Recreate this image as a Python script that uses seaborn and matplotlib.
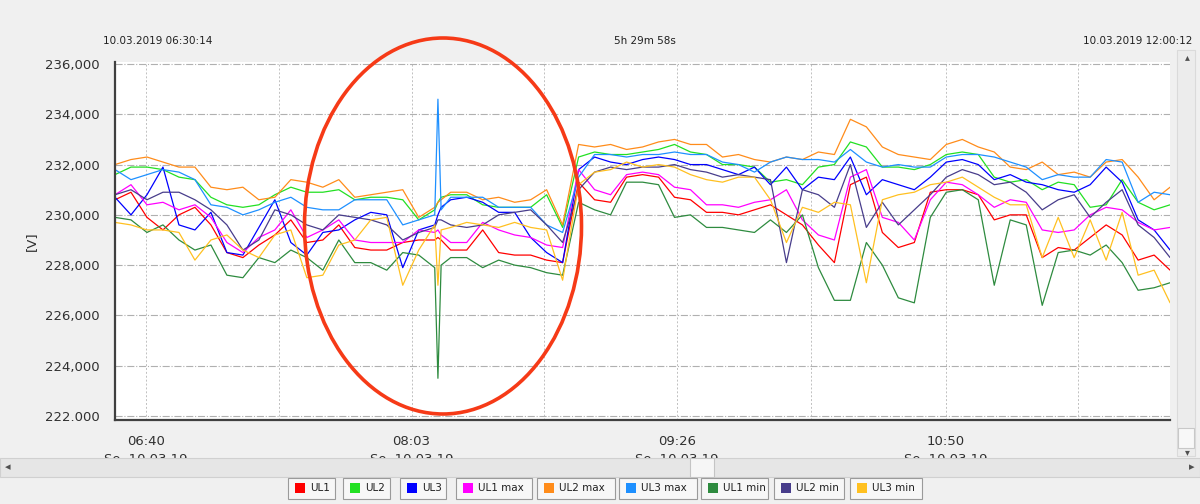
import numpy as np
import pandas as pd
import matplotlib
matplotlib.use('Agg')
import matplotlib.pyplot as plt
from matplotlib.patches import Ellipse, Rectangle
import seaborn as sns

# minutes after the start of the recording (10.03.2019 06:30:14)
minutes = [0, 5, 10, 15, 20, 25, 30, 35, 40, 45,
           50, 55, 60, 65, 70, 75, 80, 85, 90, 95,
           100, 101, 102, 105, 110, 115, 120, 125, 130, 135,
           140, 145, 150, 155, 160, 165, 170, 175, 180, 185,
           190, 195, 200, 205, 210, 215, 220, 225, 230, 235,
           240, 245, 250, 255, 260, 265, 270, 275, 280, 285,
           290, 295, 300, 305, 310, 315, 320, 325, 330]

ul1 = [230.6, 230.9, 229.9, 229.4, 230.0, 230.3, 229.6, 228.5, 228.3, 228.8,
       229.2, 229.8, 228.9, 229.0, 229.6, 228.7, 228.6, 228.6, 228.9, 229.0,
       229.0, 229.1, 229.0, 228.6, 228.6, 229.4, 228.5, 228.4, 228.4, 228.2,
       228.1, 231.3, 230.6, 230.5, 231.5, 231.6, 231.5, 230.7, 230.6, 230.1,
       230.1, 230.0, 230.2, 230.4, 230.0, 229.6, 228.8, 228.1, 231.2, 231.5,
       229.3, 228.7, 228.9, 230.9, 231.0, 231.0, 230.8, 229.8, 230.0, 230.0,
       228.3, 228.7, 228.6, 229.1, 229.6, 229.2, 228.2, 228.4, 227.8]
ul2 = [231.6, 231.9, 231.9, 231.8, 231.5, 231.4, 230.7, 230.4, 230.3, 230.4,
       230.8, 231.1, 230.9, 230.9, 231.0, 230.6, 230.7, 230.7, 230.6, 229.8,
       230.2, 230.5, 230.7, 230.8, 230.8, 230.4, 230.3, 230.3, 230.3, 230.8,
       229.5, 232.3, 232.5, 232.4, 232.4, 232.5, 232.6, 232.8, 232.5, 232.4,
       232.0, 232.0, 231.9, 231.3, 231.4, 231.2, 231.9, 232.0, 232.9, 232.7,
       231.9, 231.9, 231.8, 232.0, 232.4, 232.5, 232.4, 231.5, 231.3, 231.4,
       231.0, 231.3, 231.2, 230.3, 230.4, 231.4, 230.5, 230.2, 230.4]
ul3 = [230.7, 230.0, 230.8, 231.9, 229.6, 229.4, 230.1, 228.5, 228.4, 229.5,
       230.6, 228.9, 228.4, 229.3, 229.4, 229.8, 230.1, 230.0, 227.9, 229.4,
       229.6, 230.0, 230.3, 230.6, 230.7, 230.5, 230.1, 230.1, 229.1, 228.5,
       228.1, 231.8, 232.3, 232.1, 232.0, 232.2, 232.3, 232.2, 232.0, 232.0,
       231.8, 231.6, 231.9, 231.2, 231.9, 231.0, 231.5, 231.4, 232.3, 230.8,
       231.4, 231.2, 231.0, 231.5, 232.1, 232.2, 232.0, 231.4, 231.6, 231.3,
       231.2, 231.0, 230.9, 231.2, 231.9, 231.3, 229.8, 229.4, 228.6]
ul1_max = [230.8, 231.2, 230.4, 230.5, 230.2, 230.4, 229.9, 228.9, 228.5, 229.1,
           229.4, 230.2, 229.1, 229.4, 229.8, 229.0, 228.9, 228.9, 228.9, 229.4,
           229.3, 229.4, 229.2, 228.9, 228.9, 229.7, 229.4, 229.2, 229.1, 228.8,
           228.7, 231.8, 231.0, 230.8, 231.6, 231.7, 231.6, 231.1, 231.0, 230.4,
           230.4, 230.3, 230.5, 230.6, 231.0, 229.8, 229.2, 229.0, 231.5, 231.8,
           229.9, 229.7, 229.0, 230.6, 231.3, 231.2, 230.8, 230.3, 230.6, 230.5,
           229.4, 229.3, 229.4, 230.0, 230.3, 230.2, 229.7, 229.4, 229.5]
ul2_max = [232.0, 232.2, 232.3, 232.1, 231.9, 231.9, 231.1, 231.0, 231.1, 230.6,
           230.7, 231.4, 231.3, 231.1, 231.4, 230.7, 230.8, 230.9, 231.0, 229.9,
           230.3, 230.5, 230.6, 230.9, 230.9, 230.6, 230.7, 230.5, 230.6, 231.0,
           229.6, 232.8, 232.7, 232.8, 232.6, 232.7, 232.9, 233.0, 232.8, 232.8,
           232.3, 232.4, 232.2, 232.1, 232.3, 232.2, 232.5, 232.4, 233.8, 233.5,
           232.7, 232.4, 232.3, 232.2, 232.8, 233.0, 232.7, 232.5, 231.9, 231.8,
           232.1, 231.6, 231.7, 231.5, 232.1, 232.2, 231.5, 230.6, 231.1]
ul3_max = [231.8, 231.4, 231.6, 231.8, 231.7, 231.4, 230.4, 230.3, 230.0, 230.2,
           230.5, 230.7, 230.3, 230.2, 230.2, 230.6, 230.6, 230.6, 229.6, 229.8,
           230.0, 234.6, 230.2, 230.7, 230.7, 230.7, 230.3, 230.3, 230.3, 229.6,
           229.3, 231.5, 232.4, 232.4, 232.3, 232.4, 232.4, 232.5, 232.4, 232.4,
           232.1, 232.0, 231.7, 232.1, 232.3, 232.2, 232.2, 232.1, 232.6, 232.1,
           231.9, 232.0, 231.9, 231.9, 232.3, 232.4, 232.4, 232.3, 232.1, 231.9,
           231.4, 231.6, 231.5, 231.5, 232.2, 232.1, 230.5, 230.9, 230.8]
ul1_min = [229.9, 229.8, 229.3, 229.6, 229.0, 228.6, 228.8, 227.6, 227.5, 228.3,
           228.1, 228.6, 228.3, 227.8, 229.0, 228.1, 228.1, 227.8, 228.5, 228.4,
           227.9, 223.5, 228.0, 228.3, 228.3, 227.9, 228.2, 228.0, 227.9, 227.7,
           227.6, 230.5, 230.2, 230.0, 231.3, 231.3, 231.2, 229.9, 230.0, 229.5,
           229.5, 229.4, 229.3, 229.8, 229.3, 230.0, 227.9, 226.6, 226.6, 228.9,
           228.0, 226.7, 226.5, 229.9, 230.9, 231.0, 230.6, 227.2, 229.8, 229.6,
           226.4, 228.5, 228.6, 228.4, 228.8, 228.1, 227.0, 227.1, 227.3]
ul2_min = [230.8, 231.0, 230.6, 230.9, 230.9, 230.6, 230.2, 229.6, 228.6, 229.0,
           230.2, 230.0, 229.6, 229.4, 230.0, 229.9, 229.8, 229.6, 229.0, 229.3,
           229.5, 229.8, 229.8, 229.6, 229.5, 229.6, 230.0, 230.1, 230.2, 229.6,
           228.9, 231.0, 231.7, 231.9, 231.8, 231.9, 231.9, 232.0, 231.8, 231.7,
           231.5, 231.6, 231.5, 231.4, 228.1, 231.0, 230.8, 230.3, 232.0, 229.5,
           230.5, 229.6, 230.2, 230.8, 231.5, 231.8, 231.6, 231.2, 231.3, 230.9,
           230.2, 230.6, 230.8, 229.9, 230.5, 231.0, 229.6, 229.1, 228.3]
ul3_min = [229.7, 229.6, 229.4, 229.4, 229.3, 228.2, 229.0, 229.2, 228.6, 228.3,
           229.2, 229.4, 227.5, 227.6, 228.8, 229.0, 229.8, 229.9, 227.2, 228.6,
           229.6, 227.2, 229.4, 229.5, 229.7, 229.6, 229.5, 229.7, 229.5, 229.4,
           227.4, 231.2, 231.7, 231.8, 232.1, 231.9, 232.0, 231.9, 231.6, 231.4,
           231.3, 231.5, 231.5, 230.6, 228.9, 230.3, 230.1, 230.5, 230.4, 227.3,
           230.6, 230.8, 230.9, 231.2, 231.3, 231.5, 231.1, 230.7, 230.4, 230.4,
           228.3, 229.9, 228.3, 229.8, 228.2, 230.1, 227.6, 227.8, 226.5]

names = ['UL1', 'UL2', 'UL3', 'UL1 max', 'UL2 max', 'UL3 max', 'UL1 min', 'UL2 min', 'UL3 min']
colors = ['#ff0000', '#22e022', '#0000ff', '#ff00ff', '#ff8c1a',
          '#1e90ff', '#2e8b3f', '#483d8b', '#ffc020']

tick_labels = ['06:40', '08:03', '09:26', '10:50']
minor_ticks = ['07:21:30', '08:44:30', '10:08:00', '11:31:30']
ytick_values = [222, 224, 226, 228, 230, 232, 234, 236]
ytick_labels = ['222.000', '224,000', '226,000', '228,000', '230,000', '232,000', '234,000', '236,000']

start = pd.Timestamp('2019-03-10 06:30:14')
end = pd.Timestamp('2019-03-10 12:00:12')
times = start + pd.to_timedelta(minutes, unit='m')

wide = pd.DataFrame(dict(zip(names, [ul1, ul2, ul3, ul1_max, ul2_max, ul3_max,
                                     ul1_min, ul2_min, ul3_min])))
wide['time'] = times
df = wide.melt(id_vars='time', var_name='series', value_name='value')

sns.set_theme(style='white')
plt.rcParams['font.family'] = ['DejaVu Sans']

W, H = 1200, 504
fig = plt.figure(figsize=(12, 5.04), dpi=100, facecolor='#f0f0f0')
ax = fig.add_axes([115 / W, 1 - 420 / H, 1055 / W, 358 / H])
ax.set_facecolor('white')

sns.lineplot(data=df, x='time', y='value', hue='series', hue_order=names,
             palette=dict(zip(names, colors)), estimator=None, sort=False,
             lw=0.9, legend=False, ax=ax)

ax.set_xlim(start, end)
ax.set_ylim(221.84, 236.08)
ax.set_yticks(ytick_values)
ax.set_yticklabels(ytick_labels, fontsize=9.5, color='#303030')
major = [pd.Timestamp('2019-03-10 ' + t) for t in tick_labels]
ax.set_xticks(major)
ax.set_xticklabels([t + '\nSo. 10.03.19' for t in tick_labels], fontsize=9.5,
                   color='#303030', linespacing=1.5)
ax.set_xticks([pd.Timestamp('2019-03-10 ' + t) for t in minor_ticks], minor=True)
ax.tick_params(axis='both', which='both', direction='out', length=7, width=1.4,
               color='#404040', pad=4)
ax.tick_params(axis='x', which='minor', labelbottom=False)

ax.grid(axis='y', ls='-.', color='#b0b0b0', lw=0.8)
ax.grid(axis='x', which='both', ls=(0, (2, 2)), color='#c0c0c0', lw=0.7)
for s in ['top', 'right']:
    ax.spines[s].set_visible(False)
for s in ['left', 'bottom']:
    ax.spines[s].set_color('#404040')
    ax.spines[s].set_linewidth(1.6)
ax.set_xlabel('')
ax.set_ylabel('[V]', fontsize=9.5, color='#303030', labelpad=5)

# header texts
fig.text(103 / W, 1 - 41 / H, '10.03.2019 06:30:14', fontsize=7.5, va='center', color='#202020')
fig.text(645 / W, 1 - 41 / H, '5h 29m 58s', fontsize=7.5, va='center', ha='center', color='#202020')
fig.text(1192 / W, 1 - 41 / H, '10.03.2019 12:00:12', fontsize=7.5, va='center', ha='right', color='#202020')

# scrollbars
fig.add_artist(Rectangle((0, 1 - 477 / H), 1, 19 / H, transform=fig.transFigure,
                         fc='#e6e6e6', ec='#d0d0d0', lw=0.8, zorder=5))
fig.add_artist(Rectangle((690 / W, 1 - 477 / H), 24 / W, 19 / H, transform=fig.transFigure,
                         fc='#f6f6f6', ec='#c4c4c4', lw=0.8, zorder=6))
fig.text(8 / W, 1 - 467 / H, '\u25c2', fontsize=8, ha='center', va='center', color='#505050', zorder=7)
fig.text(1192 / W, 1 - 467 / H, '\u25b8', fontsize=8, ha='center', va='center', color='#505050', zorder=7)
fig.add_artist(Rectangle((1177 / W, 1 - 456 / H), 18 / W, 406 / H, transform=fig.transFigure,
                         fc='#ececec', ec='#dadada', lw=0.8, zorder=5))
fig.add_artist(Rectangle((1178 / W, 1 - 448 / H), 16 / W, 20 / H, transform=fig.transFigure,
                         fc='#f8f8f8', ec='#c8c8c8', lw=0.8, zorder=6))
fig.text(1187 / W, 1 - 57 / H, '\u25b4', fontsize=7, ha='center', va='center', color='#505050', zorder=7)
fig.text(1187 / W, 1 - 452 / H, '\u25be', fontsize=7, ha='center', va='center', color='#505050', zorder=7)

# legend boxes along the bottom
boxes = [(288, 335), (343, 390), (400, 446), (456, 532), (537, 615),
         (619, 697), (701, 768), (774, 844), (850, 922)]
for (x0, x1), name, col in zip(boxes, names, colors):
    fig.add_artist(Rectangle((x0 / W, 1 - 499 / H), (x1 - x0) / W, 21 / H,
                             transform=fig.transFigure, fc='#f7f7f7', ec='#9a9a9a', lw=0.8, zorder=5))
    fig.add_artist(Rectangle(((x0 + 7) / W, 1 - 493 / H), 10 / W, 10 / H,
                             transform=fig.transFigure, fc=col, ec='none', zorder=6))
    fig.text((x0 + 22) / W, 1 - 488 / H, name, fontsize=7.5, va='center', color='#202020', zorder=7)

# red highlight ring
fig.add_artist(Ellipse((443 / W, 1 - 226 / H), 277 / W, 376 / H, transform=fig.transFigure,
                       fill=False, ec='#f63a17', lw=2.6, zorder=10))

fig.savefig('out.png', dpi=100, facecolor=fig.get_facecolor())
